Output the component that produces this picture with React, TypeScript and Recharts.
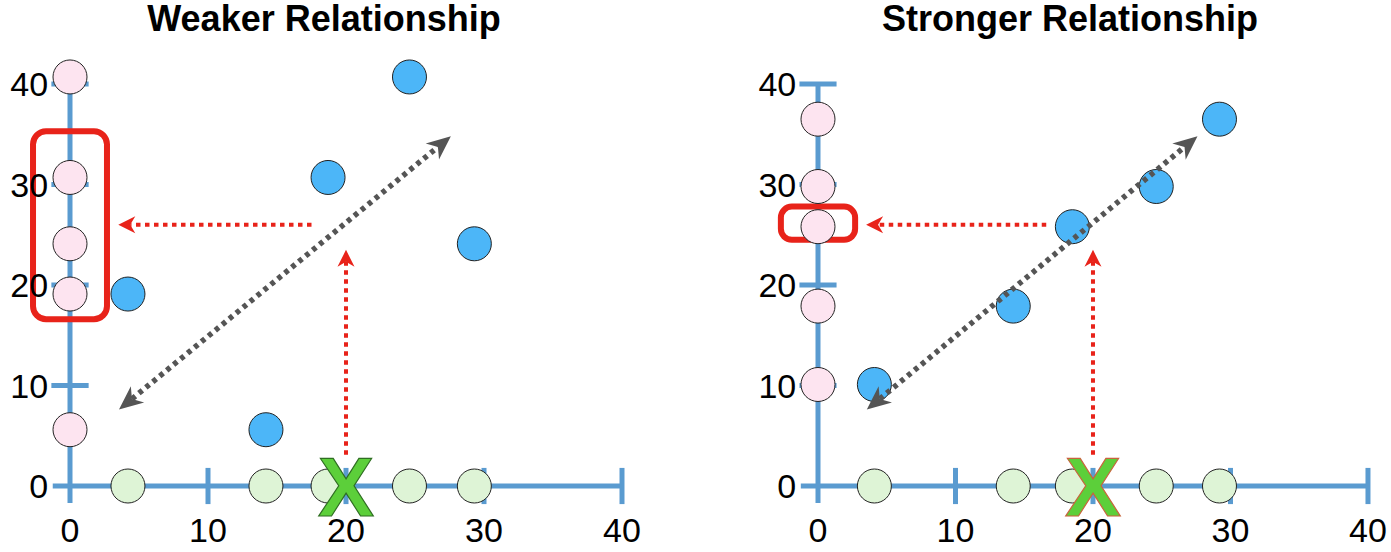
import { ScatterChart, Scatter, XAxis, YAxis, ReferenceLine, ReferenceArea, ReferenceDot } from 'recharts';

const ticks = [0, 10, 20, 30, 40];

// weaker relationship: blue points (x, y)
const weakX = [24.6, 18.7, 29.3, 4.2, 14.2];
const weakY = [40.7, 30.7, 24.1, 19.1, 5.6];

// stronger relationship: blue points (x, y)
const strongX = [29.2, 24.6, 18.5, 14.2, 4.1];
const strongY = [36.5, 29.8, 25.8, 17.9, 10.1];

const chosenX = 20;
const readY = 26;
const weakBox = [-2.68, 2.68, 16.6, 35.3];
const strongBox = [-2.7, 2.7, 24.5, 27.8];
const trendLine = [3.55, 7.6, 27.6, 34.8];

const AXIS = '#5a9bd0';
const RED = '#e8231a';
const GRAY = '#555555';
const FONT = '"Liberation Sans", Arial, Helvetica, sans-serif';

const arrowShape = (color: string, width: number, dash: string, headL: number, headW: number, both: boolean) =>
  (props: any) => {
    const { x1, y1, x2, y2 } = props;
    const dx = x2 - x1;
    const dy = y2 - y1;
    const len = Math.hypot(dx, dy) || 1;
    const ux = dx / len;
    const uy = dy / len;
    const nx = -uy;
    const ny = ux;
    const head = (tx: number, ty: number, sx: number, sy: number) => {
      const bx = tx - sx * headL;
      const by = ty - sy * headL;
      const mx = tx - sx * headL * 0.7;
      const my = ty - sy * headL * 0.7;
      return `${tx},${ty} ${bx + nx * headW / 2},${by + ny * headW / 2} ${mx},${my} ${bx - nx * headW / 2},${by - ny * headW / 2}`;
    };
    const sx = both ? x1 + ux * headL * 0.7 : x1;
    const sy = both ? y1 + uy * headL * 0.7 : y1;
    return (
      <g>
        <line x1={sx} y1={sy} x2={x2 - ux * headL * 0.7} y2={y2 - uy * headL * 0.7} stroke={color} strokeWidth={width} strokeDasharray={dash} />
        <polygon points={head(x2, y2, ux, uy)} fill={color} />
        {both && <polygon points={head(x1, y1, -ux, -uy)} fill={color} />}
      </g>
    );
  };

const boxShape = (r: number) => (props: any) => (
  <rect x={props.x} y={props.y} width={props.width} height={props.height} rx={r} ry={r} fill="none" stroke={RED} strokeWidth={6} />
);

const dot = (fill: string) => (props: any) => (
  <circle cx={props.cx} cy={props.cy} r={17} fill={fill} stroke="#222" strokeWidth={1} />
);

const xMark = (outline: string) => (props: any) => (
  <text x={props.cx} y={props.cy + 30} textAnchor="middle" fontFamily={FONT} fontWeight="bold" fontSize={84} fill="#5ccf3a" stroke={outline} strokeWidth={1.2}>
    X
  </text>
);

const tickStyle = { fontSize: 34, fill: '#000', fontFamily: FONT };

function Panel({ xs, ys, box, boxR, left, width, mLeft, mRight, xOutline, tail }: any) {
  const blue = xs.map((x: number, i: number) => ({ x, y: ys[i] }));
  const pink = ys.map((y: number) => ({ x: 0, y }));
  const green = xs.map((x: number) => ({ x, y: 0 }));
  return (
    <div style={{ position: 'absolute', left, top: 0 }}>
      <ScatterChart width={width} height={552} margin={{ top: 33.75, right: mRight, bottom: 5.9, left: mLeft }}>
        <XAxis type="number" dataKey="x" domain={[-1, 41.5]} ticks={ticks} axisLine={false} tickLine={false} tickSize={0} tickMargin={12} height={40} tick={tickStyle} />
        <YAxis type="number" dataKey="y" domain={[-2, 45]} ticks={ticks} axisLine={false} tickLine={false} tickSize={0} tickMargin={8} width={50} tick={tickStyle} />
        <ReferenceLine segment={[{ x: -1.25, y: 0 }, { x: 40, y: 0 }]} stroke={AXIS} strokeWidth={5} ifOverflow="visible" zIndex={100} />
        <ReferenceLine segment={[{ x: 0, y: -1.7 }, { x: 0, y: 40 }]} stroke={AXIS} strokeWidth={5} ifOverflow="visible" zIndex={100} />
        {ticks.slice(1).map((t) => (
          <ReferenceLine key={'xt' + t} segment={[{ x: t, y: -1.8 }, { x: t, y: 1.8 }]} stroke={AXIS} strokeWidth={5} ifOverflow="visible" zIndex={100} />
        ))}
        {ticks.slice(1).map((t) => (
          <ReferenceLine key={'yt' + t} segment={[{ x: -1.35, y: t }, { x: 1.35, y: t }]} stroke={AXIS} strokeWidth={5} ifOverflow="visible" zIndex={100} />
        ))}
        <ReferenceArea x1={box[0]} x2={box[1]} y1={box[2]} y2={box[3]} ifOverflow="visible" shape={boxShape(boxR)} zIndex={150} />
        <ReferenceLine segment={[{ x: chosenX, y: 3.1 }, { x: chosenX, y: 23.5 }]} ifOverflow="visible" shape={arrowShape(RED, 4, '4.5 4.5', 17, 17, false)} zIndex={200} />
        <ReferenceLine segment={[{ x: tail, y: readY }, { x: 3.5, y: readY }]} ifOverflow="visible" shape={arrowShape(RED, 4, '4.5 4.5', 17, 17, false)} zIndex={200} />
        <Scatter data={green} shape={dot('#def4d6')} isAnimationActive={false} zIndex={600} />
        <Scatter data={pink} shape={dot('#fde4f0')} isAnimationActive={false} zIndex={600} />
        <Scatter data={blue} shape={dot('#4cb6f8')} isAnimationActive={false} zIndex={600} />
        <ReferenceLine segment={[{ x: trendLine[0], y: trendLine[1] }, { x: trendLine[2], y: trendLine[3] }]} ifOverflow="visible" shape={arrowShape(GRAY, 5.5, '4.5 4.5', 24, 21, true)} zIndex={700} />
        <ReferenceDot x={chosenX} y={0} ifOverflow="visible" shape={xMark(xOutline)} zIndex={800} />
      </ScatterChart>
    </div>
  );
}

export default function App() {
  const title = { position: 'absolute' as const, top: 1, lineHeight: '36px', fontSize: 36, fontWeight: 'bold' as const, fontFamily: FONT, color: '#000', whiteSpace: 'nowrap' as const, transform: 'translateX(-50%)' };
  return (
    <div style={{ position: 'absolute', left: 0, top: 0, width: 1391, height: 552, background: '#fff', overflow: 'hidden' }}>
      <div style={{ ...title, left: 324 }}>Weaker Relationship</div>
      <div style={{ ...title, left: 1070 }}>Stronger Relationship</div>
      <Panel xs={weakX} ys={weakY} box={weakBox} boxR={13} left={0} width={695} mLeft={6.2} mRight={52.3} xOutline="#2f6e22" tail={17.5} />
      <Panel xs={strongX} ys={strongY} box={strongBox} boxR={11} left={695} width={696} mLeft={59.25} mRight={2.4} xOutline="#c8643c" tail={16.6} />
    </div>
  );
}
